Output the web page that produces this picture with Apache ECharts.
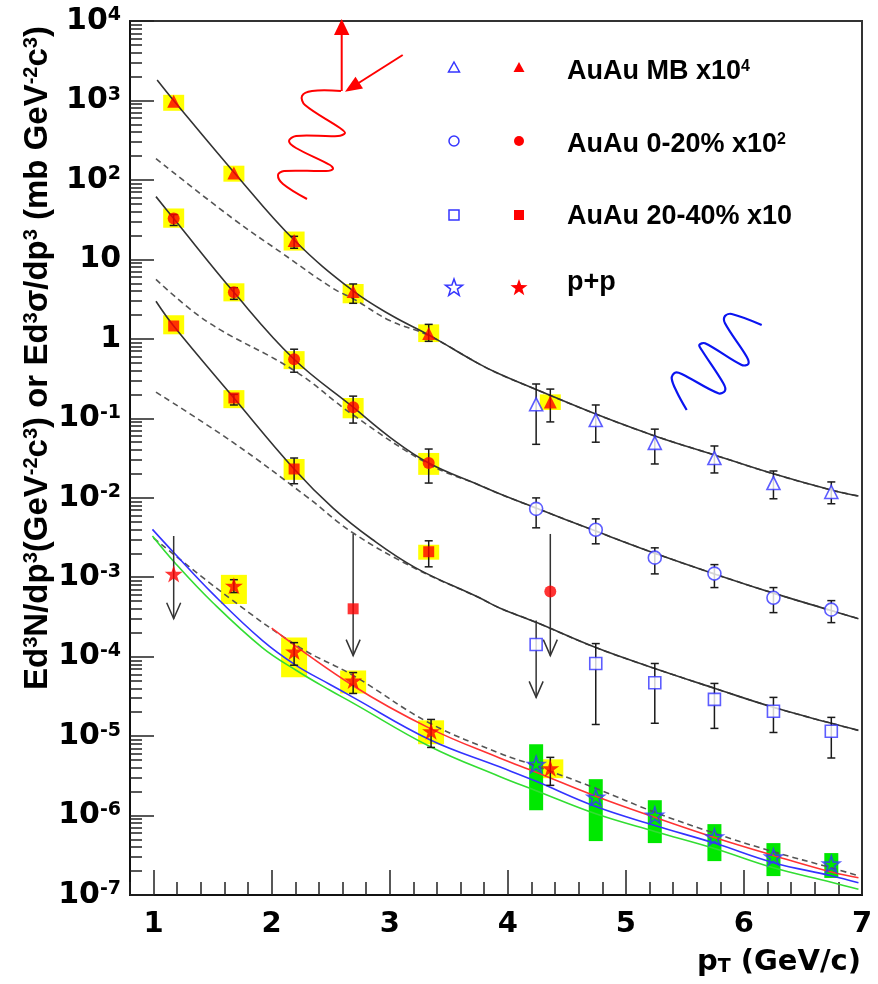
<!DOCTYPE html>
<html>
<head>
<meta charset="utf-8">
<title>Direct photon invariant yields</title>
<script src="https://cdn.jsdelivr.net/npm/echarts@6/dist/echarts.min.js"></script>
<style>
  html, body { margin: 0; padding: 0; background: #fff; }
  #chart { width: 878px; height: 984px; }
</style>
</head>
<body>
<div id="chart"></div>
<script>
// ---------------- axis ticks ----------------
const xTickValues = [1, 2, 3, 4, 5, 6, 7];
const yTickValues = [1e-7, 1e-6, 1e-5, 1e-4, 1e-3, 1e-2, 1e-1, 1, 10, 1e2, 1e3, 1e4];

// ---------------- measured points ----------------
// filled (red) sets: [pT, value, statLow, statHigh, sysLow, sysHigh]
const mbFilled = [
  [1.17, 980, null, null, 741, 1178],
  [1.68, 122, null, null, 95, 151],
  [2.19, 17.3, 13.8, 19.5, 12.9, 22.4],
  [2.69, 3.95, 2.8, 4.9, 2.8, 4.9],
  [3.33, 1.17, 0.93, 1.52, 0.91, 1.52],
  [4.36, 0.16, 0.09, 0.233, 0.127, 0.2]
];
const c020Filled = [
  [1.17, 32.7, 26.7, 36.6, 25, 43.7],
  [1.68, 3.85, 3.14, 4.4, 2.96, 5.0],
  [2.19, 0.553, 0.38, 0.74, 0.415, 0.70],
  [2.69, 0.138, 0.087, 0.19, 0.1, 0.18],
  [3.33, 0.0274, 0.0153, 0.041, 0.0194, 0.0366],
  [4.36, 6.6e-4, null, null, null, null]
];
const c2040Filled = [
  [1.17, 1.45, null, null, 1.14, 1.98],
  [1.68, 0.18, 0.147, 0.2, 0.134, 0.226],
  [2.19, 0.023, 0.015, 0.0316, 0.0168, 0.0307],
  [2.69, 4.0e-4, null, null, null, null],
  [3.33, 0.00209, 0.00135, 0.00287, 0.00166, 0.00256]
];
const ppFilled = [
  [1.17, 1.1e-3, null, null, null, null],
  [1.68, 7.8e-4, 6.4e-4, 9.3e-4, 4.6e-4, 1.07e-3],
  [2.19, 1.16e-4, 7.8e-5, 1.5e-4, 5.5e-5, 1.74e-4],
  [2.69, 5.0e-5, 3.44e-5, 6.3e-5, 3.44e-5, 6.7e-5],
  [3.35, 1.15e-5, 7.2e-6, 1.62e-5, 7.9e-6, 1.58e-5],
  [4.36, 3.94e-6, 2.4e-6, 5.4e-6, 2.95e-6, 5.1e-6]
];

// open (blue) sets: [pT, value, statLow, statHigh]
const mbOpen = [
  [4.24, 0.15, 0.047, 0.27],
  [4.745, 0.095, 0.05, 0.147],
  [5.245, 0.049, 0.0266, 0.073],
  [5.75, 0.0316, 0.0205, 0.0448],
  [6.25, 0.0153, 0.0097, 0.0217],
  [6.74, 0.0118, 0.0084, 0.0158]
];
const c020Open = [
  [4.24, 0.00724, 0.00418, 0.00995],
  [4.745, 0.00395, 0.00263, 0.00542],
  [5.245, 0.00176, 0.0011, 0.00234],
  [5.75, 0.00111, 7.4e-4, 0.00144],
  [6.25, 5.5e-4, 3.58e-4, 7.4e-4],
  [6.74, 3.9e-4, 2.68e-4, 5.07e-4]
];
const c2040Open = [
  [4.24, 1.42e-4, null, null],
  [4.745, 8.2e-5, 1.4e-5, 1.46e-4],
  [5.245, 4.7e-5, 1.45e-5, 8.2e-5],
  [5.75, 2.9e-5, 1.25e-5, 4.6e-5],
  [6.25, 2.05e-5, 1.11e-5, 3.07e-5],
  [6.74, 1.15e-5, 5.3e-6, 1.72e-5]
];
// p+p open stars: [pT, value, sysLow, sysHigh]
const ppOpen = [
  [4.24, 4.4e-6, 1.17e-6, 7.9e-6],
  [4.745, 1.7e-6, 4.77e-7, 2.87e-6],
  [5.245, 1.01e-6, 4.5e-7, 1.56e-6],
  [5.75, 5.36e-7, 2.67e-7, 7.8e-7],
  [6.25, 3.0e-7, 1.73e-7, 4.5e-7],
  [6.74, 2.45e-7, 1.64e-7, 3.37e-7]
];

// upper limits: [pT, from, arrow tip]
const upperLimits = [
  [1.17, 3.3e-3, 3.0e-4],
  [2.69, 3.5e-3, 1.03e-4],
  [4.36, 3.5e-3, 1.03e-4],
  [4.24, 2.84e-4, 3.07e-5]
];

// ---------------- curves ----------------
const fitMB = [[1.03,1815],[1.17,1000],[1.68,125],[2.19,17.5],[2.69,4.0],[3.02,1.95],[3.33,1.12],[3.76,0.48],[3.93,0.36],[4.24,0.23],[4.745,0.113],[5.245,0.06],[5.75,0.0345],[6.25,0.02],[6.74,0.0125],[6.97,0.0105]];
const fitMBDash = [[1.02,185],[1.67,32.7],[2.09,11.9],[2.52,4.3],[2.69,3.2],[3.0,1.7],[3.33,1.1],[3.76,0.48],[3.93,0.36],[4.24,0.23],[4.745,0.113],[5.245,0.06],[5.75,0.0345],[6.25,0.02],[6.74,0.0125],[6.97,0.0105]];
const fit020 = [[1.02,61.6],[1.17,32.7],[1.68,3.85],[2.19,0.553],[2.69,0.138],[3.0,0.058],[3.33,0.0274],[3.76,0.0144],[3.93,0.0112],[4.24,0.0074],[4.745,0.0038],[5.245,0.002],[5.75,0.0011],[6.25,6.3e-4],[6.74,3.8e-4],[6.97,3.0e-4]];
const fit020Dash = [[1.02,5.6],[1.45,1.66],[2.19,0.4],[2.69,0.11],[3.33,0.0265],[3.76,0.0144],[3.93,0.0112],[4.24,0.0074],[4.745,0.0038],[5.245,0.002],[5.75,0.0011],[6.25,6.3e-4],[6.74,3.8e-4],[6.97,3.0e-4]];
const fit2040 = [[1.02,2.97],[1.17,1.45],[1.68,0.18],[2.19,0.023],[2.52,0.0074],[2.85,0.003],[3.22,0.00131],[3.76,5.5e-4],[3.93,4.1e-4],[4.24,2.7e-4],[4.745,1.3e-4],[5.245,7.1e-5],[5.75,4.0e-5],[6.25,2.3e-5],[6.74,1.45e-5],[6.97,1.18e-5]];
const fit2040Dash = [[1.02,0.213],[1.67,0.05],[2.29,0.0105],[2.69,0.0036],[3.22,0.00128],[3.76,5.5e-4],[3.93,4.1e-4],[4.24,2.7e-4],[4.745,1.3e-4],[5.245,7.1e-5],[5.75,4.0e-5],[6.25,2.3e-5],[6.74,1.45e-5],[6.97,1.18e-5]];
const ppDash = [[1.0,3.1e-3],[1.64,5.5e-4],[2.24,1.3e-4],[2.69,5.8e-5],[3.34,1.45e-5],[3.93,6.1e-6],[4.24,4.2e-6],[4.745,2.2e-6],[5.245,1.1e-6],[5.75,6.0e-7],[6.25,3.5e-7],[6.74,2.2e-7],[6.97,1.75e-7]];
const ppRed = [[2.0,2.28e-4],[2.69,4.3e-5],[3.34,1.25e-5],[3.93,5.3e-6],[4.24,3.5e-6],[4.745,1.75e-6],[5.245,9.5e-7],[5.75,5.3e-7],[6.25,3.15e-7],[6.74,1.95e-7],[6.97,1.65e-7]];
const ppBlue = [[0.99,4.0e-3],[1.18,1.97e-3],[1.5,6.2e-4],[1.92,1.6e-4],[2.21,7.7e-5],[2.49,4.5e-5],[2.69,3.07e-5],[3.34,9.0e-6],[3.93,4.1e-6],[4.24,2.7e-6],[4.745,1.3e-6],[5.245,7.5e-7],[5.75,4.5e-7],[6.25,2.55e-7],[6.74,1.75e-7],[6.97,1.43e-7]];
const ppGreen = [[0.99,3.3e-3],[1.18,1.52e-3],[1.5,4.8e-4],[1.92,1.3e-4],[2.21,6.7e-5],[2.49,3.8e-5],[2.69,2.6e-5],[3.34,7.4e-6],[3.93,3.1e-6],[4.24,2.05e-6],[4.745,1.05e-6],[5.245,6.3e-7],[5.75,3.85e-7],[6.25,2.2e-7],[6.74,1.45e-7],[6.97,1.18e-7]];

// ---------------- legend ----------------
const legendLabels = ['AuAu MB x10^{4}', 'AuAu 0-20% x10^{2}', 'AuAu 20-40% x10', 'p+p'];
const legendShapes = ['triangle', 'circle', 'square', 'star'];

// ---------------- styling ----------------
const RED = '#ff0000';
const BLUE = '#3535ff';
const YELLOW = '#ffff00';
const GREEN = '#00e800';
const INK = '#1a1a1a';
const AX_FONT = 'DejaVu Sans';
const TXT_FONT = 'Liberation Sans';
const STAR_PATH = 'path://M50,0 L61.2,34.5 L97.6,34.5 L68.2,55.9 L79.4,90.5 L50,69.1 L20.6,90.5 L31.8,55.9 L2.4,34.5 L38.8,34.5 Z';

// y minor ticks at 2..9 inside each decade
const yMinorTicks = [];
for (let i = 0; i < yTickValues.length - 1; i++) {
  for (let m = 2; m <= 9; m++) yMinorTicks.push(+(m * yTickValues[i]).toPrecision(3));
}

const pts = rows => rows.map(r => [r[0], r[1]]);
const stat = rows => rows.filter(r => r[2] != null).map(r => [r[0], r[2], r[3]]);
const sys = rows => rows.filter(r => r[4] != null).map(r => [r[0], r[4], r[5]]);
const openSys = rows => rows.map(r => [r[0], r[2], r[3]]);

function renderErrorBar(params, api) {
  const x = api.value(0);
  const a = api.coord([x, api.value(1)]);
  const b = api.coord([x, api.value(2)]);
  const cap = 4;
  const st = { stroke: INK, lineWidth: 1.5 };
  return { type: 'group', children: [
    { type: 'line', shape: { x1: a[0], y1: a[1], x2: b[0], y2: b[1] }, style: st },
    { type: 'line', shape: { x1: a[0] - cap, y1: a[1], x2: a[0] + cap, y2: a[1] }, style: st },
    { type: 'line', shape: { x1: b[0] - cap, y1: b[1], x2: b[0] + cap, y2: b[1] }, style: st }
  ]};
}
function boxRenderer(width, color) {
  return function (params, api) {
    const x = api.value(0);
    const lo = api.coord([x, api.value(1)]);
    const hi = api.coord([x, api.value(2)]);
    return { type: 'rect',
      shape: { x: lo[0] - width / 2, y: hi[1], width: width, height: lo[1] - hi[1] },
      style: { fill: color } };
  };
}
function renderLimit(params, api) {
  const x = api.value(0);
  const top = api.coord([x, api.value(1)]);
  const tip = api.coord([x, api.value(2)]);
  const st = { stroke: '#333', lineWidth: 1.5, fill: null };
  return { type: 'group', children: [
    { type: 'line', shape: { x1: top[0], y1: top[1], x2: tip[0], y2: tip[1] }, style: st },
    { type: 'polyline', shape: { points: [[tip[0] - 7, tip[1] - 16], [tip[0], tip[1]], [tip[0] + 7, tip[1] - 16]] }, style: st }
  ]};
}

function customSeries(data, renderItem, z) {
  return { type: 'custom', data, renderItem, encode: { x: 0, y: [1, 2] }, z, silent: true, animation: false };
}
function curve(data, color, dashed) {
  return { type: 'line', data, showSymbol: false, symbol: 'none', smooth: 0.4,
    lineStyle: { color, width: 1.6, type: dashed ? [6, 4] : 'solid' }, z: 3, silent: true, animation: false };
}
function markers(data, symbol, size, itemStyle) {
  return { type: 'scatter', data, symbol, symbolSize: size, symbolKeepAspect: true,
    itemStyle, z: 6, silent: true, animation: false };
}

// rich text helper: "^{..}" becomes superscript, "_{..}" subscript
function toRich(str) {
  const parts = str.split(/(\^\{[^}]*\}|_\{[^}]*\})/).filter(s => s.length);
  return parts.map(p => {
    if (p.startsWith('^{')) return '{s|' + p.slice(2, -1) + '}';
    if (p.startsWith('_{')) return '{d|' + p.slice(2, -1) + '}';
    return '{m|' + p + '}';
  }).join('');
}

function yLabel(v) {
  const e = Math.round(Math.log10(v));
  if (e === 0) return '{b|1}';
  if (e === 1) return '{b|10}';
  return '{b|10}{s|' + e + '}';
}

const chart = echarts.init(document.getElementById('chart'));

const series = [
  // systematic boxes
  customSeries(sys(mbFilled), boxRenderer(21, YELLOW), 1),
  customSeries(sys(c020Filled), boxRenderer(21, YELLOW), 1),
  customSeries(sys(c2040Filled), boxRenderer(21, YELLOW), 1),
  customSeries(sys(ppFilled), boxRenderer(26, YELLOW), 1),
  customSeries(openSys(ppOpen), boxRenderer(14, GREEN), 1),
  // curves
  curve(fitMBDash, '#555', true),
  curve(fit020Dash, '#555', true),
  curve(fit2040Dash, '#555', true),
  curve(ppDash, '#555', true),
  curve(fitMB, '#333', false),
  curve(fit020, '#333', false),
  curve(fit2040, '#333', false),
  curve(ppGreen, '#33dd33', false),
  curve(ppBlue, '#3333ff', false),
  curve(ppRed, '#ff3333', false),
  // error bars and limits
  customSeries(stat(mbFilled), renderErrorBar, 4),
  customSeries(stat(c020Filled), renderErrorBar, 4),
  customSeries(stat(c2040Filled), renderErrorBar, 4),
  customSeries(stat(ppFilled), renderErrorBar, 4),
  customSeries(stat(mbOpen), renderErrorBar, 4),
  customSeries(stat(c020Open), renderErrorBar, 4),
  customSeries(stat(c2040Open), renderErrorBar, 4),
  customSeries(upperLimits, renderLimit, 4),
  // markers
  markers(pts(mbOpen), 'triangle', 13, { color: '#fff', borderColor: BLUE, borderWidth: 1.6 }),
  markers(pts(c020Open), 'circle', 13, { color: '#fff', borderColor: BLUE, borderWidth: 1.6 }),
  markers(pts(c2040Open), 'rect', 12, { color: '#fff', borderColor: BLUE, borderWidth: 1.6 }),
  markers(pts(ppOpen), STAR_PATH, 17, { color: 'rgba(255,255,255,0)', borderColor: BLUE, borderWidth: 1.6 }),
  markers(pts(mbFilled), 'triangle', 13, { color: RED }),
  markers(pts(c020Filled), 'circle', 12, { color: RED }),
  markers(pts(c2040Filled), 'rect', 11, { color: RED }),
  markers(pts(ppFilled), STAR_PATH, 18, { color: RED })
];

// ---- legend drawing ----
function starPoints(cx, cy, R) {
  const p = [];
  for (let i = 0; i < 10; i++) {
    const r = i % 2 ? R * 0.4 : R;
    const a = -Math.PI / 2 + i * Math.PI / 5;
    p.push([cx + r * Math.cos(a), cy + r * Math.sin(a)]);
  }
  return p;
}
function legendIcon(shape, cx, cy, filled) {
  const style = filled ? { fill: RED, stroke: null } : { fill: null, stroke: BLUE, lineWidth: 1.5 };
  if (shape === 'triangle') return { type: 'polygon', shape: { points: [[cx, cy - 6], [cx + 5.5, cy + 4], [cx - 5.5, cy + 4]] }, style };
  if (shape === 'circle') return { type: 'circle', shape: { cx, cy, r: 5 }, style };
  if (shape === 'square') return { type: 'rect', shape: { x: cx - 5, y: cy - 5, width: 10, height: 10 }, style };
  return { type: 'polygon', shape: { points: starPoints(cx, cy, 9) }, style };
}
const legendIconY = [68, 141, 215, 288];
const legendTextY = [72, 145, 217, 283];
const legendEls = [];
legendLabels.forEach((lab, i) => {
  legendEls.push(legendIcon(legendShapes[i], 454, legendIconY[i], false));
  legendEls.push(legendIcon(legendShapes[i], 519, legendIconY[i], true));
  legendEls.push({ type: 'text', x: 567, y: legendTextY[i], style: {
    text: toRich(lab), align: 'left', verticalAlign: 'middle',
    rich: {
      m: { fontFamily: TXT_FONT, fontWeight: 'bold', fontSize: 27, lineHeight: 27, verticalAlign: 'bottom', fill: '#000' },
      s: { fontFamily: TXT_FONT, fontWeight: 'bold', fontSize: 16, lineHeight: 16, padding: [0, 0, 6, 0], verticalAlign: 'top', fill: '#000' }
    } } });
});

// ---- decorations: photon lines ----
const redWave = [[341,91],[312,91],[302,96],[305,105],[340,128],[345,133],[338,136],[296,136],[289,141],[296,148],[330,165],[333,169],[326,171],[284,171],[278,175],[283,184],[307,199]];
const blueWave = [[686.7,410],[676.7,391.7],[671.7,378.3],[675,372.7],[681.7,374],[718.3,393.3],[725,390.7],[723.3,383.3],[701.7,350],[699.3,345],[705,343.3],[741.7,365],[748.3,364],[746.7,356.7],[725,323.3],[725,316],[731.7,314],[761.7,325]];
const decoEls = [
  { type: 'polyline', shape: { points: redWave, smooth: 0.35 }, style: { stroke: RED, lineWidth: 2, fill: null } },
  { type: 'line', shape: { x1: 341.7, y1: 91, x2: 341.7, y2: 33 }, style: { stroke: RED, lineWidth: 2 } },
  { type: 'polygon', shape: { points: [[341.7, 19], [334, 35], [349.4, 35]] }, style: { fill: RED } },
  { type: 'line', shape: { x1: 402.7, y1: 55, x2: 357, y2: 84 }, style: { stroke: RED, lineWidth: 2 } },
  { type: 'polygon', shape: { points: [[345, 91.7], [363, 88.5], [355.5, 76.7]] }, style: { fill: RED } },
  { type: 'polyline', shape: { points: blueWave, smooth: 0.35 }, style: { stroke: '#0a14f0', lineWidth: 2.2, fill: null } }
];

// ---- axis titles ----
const yTitle = 'Ed^{3}N/dp^{3}(GeV^{-2}c^{3}) or Ed^{3}σ/dp^{3} (mb GeV^{-2}c^{3})';
const xTitle = 'p_{T} (GeV/c)';
const titleEls = [
  { type: 'text', x: 38, y: 358, rotation: Math.PI / 2, style: {
    text: toRich(yTitle), align: 'center', verticalAlign: 'middle',
    rich: {
      m: { fontFamily: TXT_FONT, fontWeight: 'bold', fontSize: 33, lineHeight: 33, verticalAlign: 'bottom', fill: '#000' },
      s: { fontFamily: TXT_FONT, fontWeight: 'bold', fontSize: 20, lineHeight: 20, padding: [0, 0, 24, 0], verticalAlign: 'top', fill: '#000' }
    } } },
  { type: 'text', x: 861, y: 962, style: {
    text: toRich(xTitle), align: 'right', verticalAlign: 'middle',
    rich: {
      m: { fontFamily: AX_FONT, fontWeight: 'bold', fontSize: 29, lineHeight: 29, verticalAlign: 'top', fill: '#000' },
      d: { fontFamily: AX_FONT, fontWeight: 'bold', fontSize: 19, lineHeight: 19, padding: [22, 0, 0, 0], verticalAlign: 'bottom', fill: '#000' }
    } } }
];

const option = {
  animation: false,
  backgroundColor: '#fff',
  grid: { left: 130, top: 19, right: 16, bottom: 89, show: true, borderColor: '#333', borderWidth: 2, backgroundColor: 'transparent' },
  xAxis: [
    { type: 'value', min: 0.8, max: 7, position: 'bottom',
      axisLine: { lineStyle: { color: '#111', width: 2 } },
      axisTick: { inside: true, length: 25, customValues: xTickValues, lineStyle: { color: '#222', width: 1.5 } },
      axisLabel: { customValues: xTickValues, margin: 15, color: '#000', fontFamily: AX_FONT, fontWeight: 'bold', fontSize: 29 },
      splitLine: { show: false } },
    { type: 'value', min: 0.8, max: 7, interval: 0.2, position: 'bottom',
      axisLine: { show: false },
      axisTick: { inside: true, length: 13, lineStyle: { color: '#222', width: 1.5 } },
      axisLabel: { show: false }, splitLine: { show: false } }
  ],
  yAxis: [
    { type: 'log', logBase: 10, min: 1e-7, max: 1e4, position: 'left',
      axisLine: { lineStyle: { color: '#111', width: 2 } },
      axisTick: { inside: true, length: 24, customValues: yTickValues, lineStyle: { color: '#222', width: 1.5 } },
      axisLabel: { customValues: yTickValues, margin: 9, formatter: yLabel,
        rich: {
          b: { fontFamily: AX_FONT, fontWeight: 'bold', fontSize: 30, lineHeight: 30, padding: [6, 0, 0, 0], verticalAlign: 'bottom', color: '#000' },
          s: { fontFamily: AX_FONT, fontWeight: 'bold', fontSize: 19, lineHeight: 19, padding: [0, 0, 19, 0], verticalAlign: 'top', color: '#000' }
        } },
      splitLine: { show: false } },
    { type: 'log', logBase: 10, min: 1e-7, max: 1e4, position: 'left',
      axisLine: { show: false },
      axisTick: { inside: true, length: 12, customValues: yMinorTicks, lineStyle: { color: '#222', width: 1.5 } },
      axisLabel: { show: false }, splitLine: { show: false } }
  ],
  graphic: { elements: [...decoEls, ...legendEls, ...titleEls] },
  series
};
chart.setOption(option);
</script>
</body>
</html>
